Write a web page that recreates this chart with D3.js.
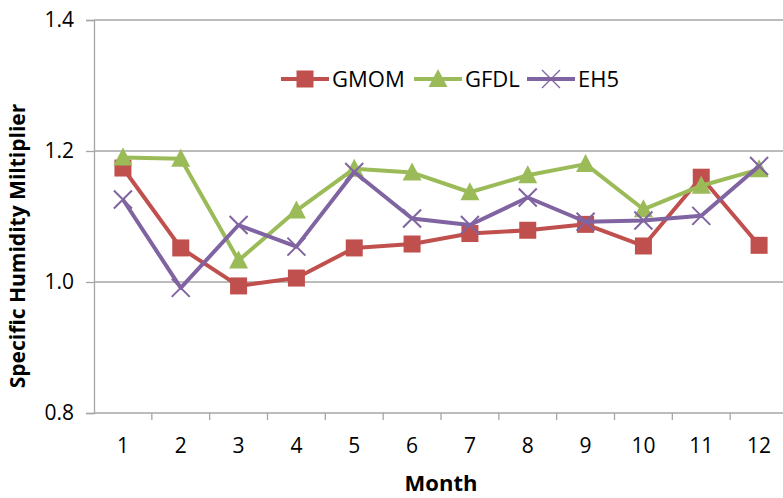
<!DOCTYPE html>
<html>
<head>
<meta charset="utf-8">
<script src="https://cdn.jsdelivr.net/npm/d3@7/dist/d3.min.js"></script>
<style>
  body { margin: 0; background: #fff; }
  text { font-family: "Open Sans", "Liberation Sans", sans-serif; fill: #000; }
</style>
</head>
<body>
<div id="chart"></div>
<script>
var months = ["1", "2", "3", "4", "5", "6", "7", "8", "9", "10", "11", "12"];
var gmom = [1.174, 1.052, 0.994, 1.006, 1.052, 1.058, 1.074, 1.079, 1.088, 1.055, 1.160, 1.056];
var gfdl = [1.190, 1.188, 1.033, 1.109, 1.173, 1.167, 1.137, 1.163, 1.180, 1.111, 1.147, 1.172];
var eh5  = [1.126, 0.991, 1.087, 1.054, 1.168, 1.097, 1.087, 1.129, 1.092, 1.094, 1.101, 1.177];
var yTicks = [0.8, 1.0, 1.2, 1.4];
var seriesNames = ["GMOM", "GFDL", "EH5"];
var seriesColors = ["#C0504D", "#9BBB59", "#8064A2"];

var width = 783;
var height = 498;
var plotLeft = 94, plotRight = 788, plotTop = 20, plotBottom = 413;

var svg = d3.select("#chart")
    .append("svg")
    .attr("width", width)
    .attr("height", height);

var x = d3.scaleBand().domain(months).range([plotLeft, plotRight]);
var y = d3.scaleLinear().domain([0.8, 1.4]).range([plotBottom, plotTop]);

// gridlines
svg.selectAll("line.grid")
    .data(yTicks.slice(1))
    .enter()
    .append("line")
    .attr("class", "grid")
    .attr("x1", plotLeft)
    .attr("x2", width)
    .attr("y1", function (d) { return y(d); })
    .attr("y2", function (d) { return y(d); })
    .style("stroke", "#a6a6a6")
    .style("stroke-width", 1.3);

// y axis
var yAxis = svg.append("g")
    .attr("transform", "translate(" + plotLeft + ",0)")
    .call(d3.axisLeft(y).tickValues(yTicks).tickFormat(d3.format(".1f")).tickSize(8).tickPadding(12));
yAxis.select(".domain").style("stroke", "#a6a6a6").style("stroke-width", 1.3);
yAxis.selectAll(".tick line").style("stroke", "#a6a6a6").style("stroke-width", 1.3);
yAxis.selectAll("text").style("font-size", "21px").style("font-family", "Open Sans");

// x axis, ticks on band edges
var xAxis = svg.append("g")
    .attr("transform", "translate(0," + plotBottom + ")")
    .call(d3.axisBottom(x).tickSize(0).tickPadding(25));
xAxis.select(".domain").remove();
xAxis.append("line")
    .attr("x1", plotLeft).attr("x2", width)
    .style("stroke", "#a6a6a6").style("stroke-width", 1.3);
xAxis.selectAll("line.edge")
    .data(months)
    .enter()
    .append("line")
    .attr("class", "edge")
    .attr("x1", function (d) { return x(d) + x.bandwidth(); })
    .attr("x2", function (d) { return x(d) + x.bandwidth(); })
    .attr("y1", 0).attr("y2", 7)
    .style("stroke", "#a6a6a6").style("stroke-width", 1.3);
xAxis.selectAll(".tick text").style("font-size", "21px").style("font-family", "Open Sans");

// axis titles
svg.append("text")
    .attr("x", 441)
    .attr("y", 491)
    .attr("text-anchor", "middle")
    .style("font-size", "22px")
    .style("font-weight", "bold")
    .text("Month");

svg.append("text")
    .attr("transform", "translate(25,246) rotate(-90)")
    .attr("text-anchor", "middle")
    .style("font-size", "21px")
    .style("font-weight", "bold")
    .text("Specific Humidity Miltiplier");

var line = d3.line()
    .x(function (d, i) { return x(months[i]) + x.bandwidth() / 2; })
    .y(function (d) { return y(d); });

function marker(g, k, color, thin) {
    if (k == 0) {
        g.append("rect").attr("x", -8.5).attr("y", -8.5).attr("width", 17).attr("height", 17)
            .style("fill", color);
    } else if (k == 1) {
        g.append("path").attr("d", "M0,-10 L9.5,8 L-9.5,8 Z").style("fill", color);
    } else {
        g.append("path").attr("d", "M-9,-9 L9,9 M-9,9 L9,-9")
            .style("stroke", color).style("stroke-width", thin ? 1.3 : 2).style("fill", "none");
    }
}

var allSeries = [gmom, gfdl, eh5];
allSeries.forEach(function (vals, k) {
    svg.append("path")
        .datum(vals)
        .attr("d", line)
        .style("fill", "none")
        .style("stroke", seriesColors[k])
        .style("stroke-width", 4)
        .style("stroke-linejoin", "round");

    svg.selectAll("g.m" + k)
        .data(vals)
        .enter()
        .append("g")
        .attr("class", "m" + k)
        .attr("transform", function (d, i) {
            return "translate(" + (x(months[i]) + x.bandwidth() / 2) + "," + y(d) + ")";
        })
        .each(function () { marker(d3.select(this), k, seriesColors[k], false); });
});

// legend
var legendX = [281, 414, 527];
var legend = svg.selectAll("g.legend")
    .data(seriesNames)
    .enter()
    .append("g")
    .attr("class", "legend")
    .attr("transform", function (d, i) { return "translate(" + legendX[i] + ",79)"; });

legend.append("line")
    .attr("x1", 0).attr("x2", 48)
    .style("stroke", function (d, i) { return seriesColors[i]; })
    .style("stroke-width", 4);

legend.append("g")
    .attr("transform", "translate(24,0)")
    .each(function (d, i) { marker(d3.select(this), i, seriesColors[i], true); });

legend.append("text")
    .attr("x", 51)
    .attr("y", 8)
    .style("font-size", "22px")
    .text(function (d) { return d; });
</script>
</body>
</html>
